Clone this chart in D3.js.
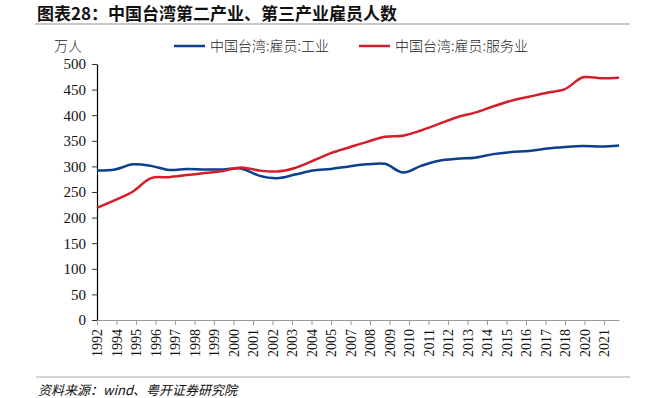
<!DOCTYPE html>
<html>
<head>
<meta charset="utf-8">
<script src="https://cdn.jsdelivr.net/npm/d3@7"></script>
<style>
  body { margin: 0; background: #fff; }
  svg { display: block; }
</style>
</head>
<body>
<div id="chart"></div>
<script>
// years of the data points (year-end values)
const years = [1992, 1993, 1994, 1995, 1996, 1997, 1998, 1999, 2000, 2001,
               2002, 2003, 2004, 2005, 2006, 2007, 2008, 2009, 2010, 2011,
               2012, 2013, 2014, 2015, 2016, 2017, 2018, 2019, 2020, 2021];
// 中国台湾:雇员:工业 (万人)
const industry = [292, 294, 304, 301, 293, 295, 294, 294, 296, 282,
                  277, 284, 292, 295, 300, 304, 305, 288, 301, 311,
                  315, 317, 324, 328, 330, 335, 338, 340, 339, 341];
// 中国台湾:雇员:服务业 (万人)
const services = [219, 234, 251, 277, 279, 283, 287, 291, 298, 292,
                  290, 297, 311, 326, 337, 348, 358, 360, 370, 383,
                  396, 405, 417, 428, 436, 444, 451, 474, 472, 473];

const seriesNames = ["中国台湾:雇员:工业", "中国台湾:雇员:服务业"];
const seriesColors = ["#0d3f8f", "#d41f2b"];

const yTicks = [0, 50, 100, 150, 200, 250, 300, 350, 400, 450, 500];
// date axis ticks every 13 months, labelled by year
const xTickLabels = ["1992", "1994", "1995", "1996", "1997", "1998", "1999", "2000", "2001",
                     "2002", "2003", "2004", "2005", "2007", "2008", "2009", "2010", "2011",
                     "2012", "2013", "2014", "2015", "2016", "2017", "2018", "2020", "2021"];

const W = 657, H = 398;
const plotL = 97, plotR = 619, plotT = 64, plotB = 320;
const serif = "'Liberation Serif', 'Times New Roman', serif";
const cjk = "'Noto Sans CJK SC', sans-serif";

const svg = d3.select("#chart").append("svg")
    .attr("width", W)
    .attr("height", H);

const toDate = yr => new Date(yr, 11, 31);
const start = toDate(years[0]);

const x = d3.scaleTime()
    .domain([start, toDate(years[years.length - 1])])
    .range([plotL, plotR]);
const y = d3.scaleLinear()
    .domain([0, 500])
    .range([plotB, plotT]);

// title
svg.append("text")
    .attr("x", 37).attr("y", 20)
    .attr("font-family", cjk)
    .attr("font-weight", "bold")
    .attr("font-size", "17px")
    .attr("fill", "#111")
    .text("图表28：中国台湾第二产业、第三产业雇员人数");
svg.append("line")
    .attr("x1", 35).attr("x2", 630)
    .attr("y1", 24).attr("y2", 24)
    .attr("stroke", "#c8c8c8")
    .attr("stroke-width", 2);

// unit
svg.append("text")
    .attr("x", 68).attr("y", 51)
    .attr("text-anchor", "middle")
    .attr("font-family", cjk)
    .attr("font-weight", 300)
    .attr("font-size", "14px")
    .attr("fill", "#222")
    .text("万人");

// legend
const legendX = [174, 359];
seriesNames.forEach((name, i) => {
    svg.append("line")
        .attr("x1", legendX[i]).attr("x2", legendX[i] + 31)
        .attr("y1", 46).attr("y2", 46)
        .attr("stroke", seriesColors[i])
        .attr("stroke-width", 2.5);
    svg.append("text")
        .attr("x", legendX[i] + 36).attr("y", 51)
        .attr("font-family", cjk)
        .attr("font-weight", 300)
        .attr("font-size", "14px")
        .attr("fill", "#222")
        .text(name);
});

// y axis
const yAxis = svg.append("g")
    .attr("transform", `translate(${plotL},0)`)
    .call(d3.axisLeft(y).tickValues(yTicks).tickSize(5).tickSizeOuter(0).tickPadding(6));
yAxis.select(".domain").attr("stroke", "#000").attr("stroke-width", 1.2);
yAxis.selectAll(".tick line").attr("stroke", "#333");
yAxis.selectAll("text")
    .attr("font-family", serif)
    .attr("font-size", "15px")
    .attr("fill", "#111");

// x axis
const xTickDates = xTickLabels.map((d, i) => d3.timeMonth.offset(start, 13 * i));
const xAxis = svg.append("g")
    .attr("transform", `translate(0,${plotB})`)
    .call(d3.axisBottom(x)
        .tickValues(xTickDates)
        .tickFormat((d, i) => xTickLabels[i])
        .tickSize(5)
        .tickSizeOuter(0));
xAxis.select(".domain").attr("stroke", "#999").attr("stroke-width", 1.2);
xAxis.selectAll(".tick line").attr("stroke", "#999");
xAxis.selectAll("text")
    .attr("font-family", serif)
    .attr("font-size", "14px")
    .attr("fill", "#111")
    .attr("text-anchor", "end")
    .attr("transform", "rotate(-90)")
    .attr("x", -9)
    .attr("y", 0)
    .attr("dy", "0.35em");

// lines
const line = d3.line()
    .x((d, i) => x(toDate(years[i])))
    .y(d => y(d))
    .curve(d3.curveCatmullRom.alpha(0.5));

[industry, services].forEach((values, i) => {
    svg.append("path")
        .datum(values)
        .attr("fill", "none")
        .attr("stroke", seriesColors[i])
        .attr("stroke-width", 2.5)
        .attr("d", line);
});

// source
svg.append("line")
    .attr("x1", 36).attr("x2", 630)
    .attr("y1", 377).attr("y2", 377)
    .attr("stroke", "#c8c8c8")
    .attr("stroke-width", 1.5);
svg.append("text")
    .attr("x", 38).attr("y", 395)
    .attr("font-family", cjk)
    .attr("font-style", "italic")
    .attr("font-size", "13px")
    .attr("fill", "#111")
    .text("资料来源：wind、粤开证券研究院");
</script>
</body>
</html>
